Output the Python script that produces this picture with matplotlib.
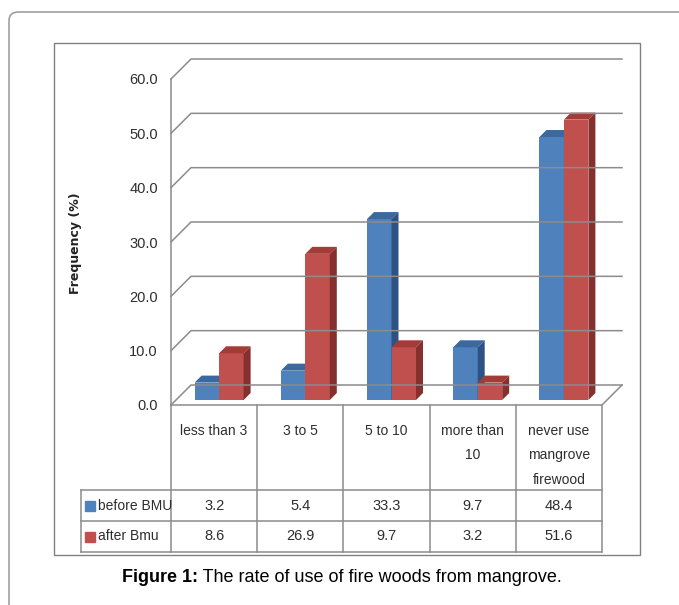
import numpy as np
import matplotlib
matplotlib.use("Agg")
import matplotlib.pyplot as plt
from matplotlib.patches import Polygon, Rectangle, FancyBboxPatch

# donnees
categories = ["less than 3", "3 to 5", "5 to 10", "more than\n10", "never use\nmangrove\nfirewood"]
before_bmu = [3.2, 5.4, 33.3, 9.7, 48.4]
after_bmu = [8.6, 26.9, 9.7, 3.2, 51.6]
series_names = ["before BMU", "after Bmu"]
y_ticks = [0, 10, 20, 30, 40, 50, 60]

W, H = 679, 605
plt.rcParams['font.family'] = ['Liberation Sans', 'DejaVu Sans']
FS = 10
TXT = '#2e2e2e'

fig = plt.figure(figsize=(W / 100, H / 100), dpi=100)

# cadre exterieur arrondi + cadre du graphique
fig.patches.append(FancyBboxPatch((9 / W, -0.1), 1.2, 1 - 12 / H + 0.1,
                                  boxstyle="round,pad=0,rounding_size=0.014",
                                  transform=fig.transFigure, fill=False, ec='#a0a0a0', lw=1.2))
fig.patches.append(Rectangle((54 / W, 1 - 555 / H), (640 - 54) / W, (555 - 43) / H,
                             transform=fig.transFigure, fill=False, ec='#808080', lw=1.0))

# axes du graphique (plan avant)
ax = fig.add_axes([171 / W, 1 - 405 / H, 431 / W, 326 / H])
ax.set_xlim(0, 5)
ax.set_ylim(0, 60)
ax.patch.set_visible(False)
for s in ax.spines.values():
    s.set_visible(False)
ax.set_xticks([])
ax.set_yticks(y_ticks)
ax.set_yticklabels([f"{v:.1f}" for v in y_ticks], fontsize=10.5, color=TXT)
ax.tick_params(axis='y', length=0, pad=9.5)

px = 5 / 431   # 1 pixel en unites x
py = 60 / 326  # 1 pixel en unites y
DEPTH = 20
gx, gy = DEPTH * px, DEPTH * py
grid_kw = dict(color='#8c8c8c', lw=1.1, clip_on=False)

for v in y_ticks:
    ax.plot([0, gx, 5 + gx], [v, v + gy, v + gy], **grid_kw)
ax.plot([0, 0], [0, 60], **grid_kw)
ax.plot([0, 5, 5 + gx], [0, 0, gy], **grid_kw)

# barres 3D
colors = {
    "blue": ('#4F81BD', '#3C68A0', '#2E5283'),
    "red": ('#C0504D', '#A33C39', '#86302D'),
}
n = len(categories)
x = np.arange(n) + 0.5
bw = 24.5 * px
d0x, d0y = 5 * px, 5 * py
bdx, bdy = 7 * px, 7 * py


def bar3d(x0, h, front, top, side):
    xl, xr = x0 + d0x, x0 + bw + d0x
    yb, yt = d0y, h + d0y
    ax.add_patch(Polygon([(xl, yb), (xr, yb), (xr, yt), (xl, yt)], closed=True,
                         fc=front, ec='none', clip_on=False))
    ax.add_patch(Polygon([(xl, yt), (xr, yt), (xr + bdx, yt + bdy), (xl + bdx, yt + bdy)],
                         closed=True, fc=top, ec='none', clip_on=False))
    ax.add_patch(Polygon([(xr, yb), (xr + bdx, yb + bdy), (xr + bdx, yt + bdy), (xr, yt)],
                         closed=True, fc=side, ec='none', clip_on=False))


for i in range(n):
    bar3d(x[i] - bw, before_bmu[i], *colors["blue"])
    bar3d(x[i], after_bmu[i], *colors["red"])

# tableau de donnees
tab = fig.add_axes([81 / W, 1 - 552 / H, (602 - 81) / W, (552 - 405) / H])
cat_px = 431 / 5
lab_w = (171 - 81) / cat_px
top_y = 147
row_h = 31
tab.set_xlim(-lab_w, 5)
tab.set_ylim(0, top_y)
tab.axis('off')
line_kw = dict(color='#8c8c8c', lw=1.1, clip_on=False)
for k in range(n + 1):
    tab.plot([k, k], [0, top_y], **line_kw)
tab.plot([-lab_w, -lab_w], [0, 2 * row_h], **line_kw)
for r in range(3):
    tab.plot([-lab_w, 5], [r * row_h, r * row_h], **line_kw)

for i, c in enumerate(categories):
    tab.text(i + 0.5, top_y - 19, c, ha='center', va='top', fontsize=FS,
             linespacing=1.95, color=TXT)

values = [before_bmu, after_bmu]
leg_cols = [colors["blue"][0], colors["red"][0]]
for r, (name, vals, col) in enumerate(zip(series_names, values, leg_cols)):
    yc = (2 - r - 0.5) * row_h
    tab.plot([-lab_w + 8.5 / cat_px], [yc], marker='s', ms=7, color=col, ls='none', clip_on=False)
    tab.text(-lab_w + 16.5 / cat_px, yc, name, ha='left', va='center', fontsize=FS, color=TXT)
    for i, v in enumerate(vals):
        tab.text(i + 0.5, yc, f"{v:.1f}", ha='center', va='center', fontsize=10.5, color=TXT)

# titre de l'axe y
fig.text(75 / W, 1 - 243 / H, "Frequency (%)", rotation=90, fontsize=9, fontweight='bold',
         family='DejaVu Sans', ha='center', va='center', color='#222222')

# legende de la figure, centree
cap_y = 1 - 577 / H
t1 = fig.text(0, cap_y, "Figure 1:", fontsize=13, fontweight='bold', va='center')
t2 = fig.text(0, cap_y, " The rate of use of fire woods from mangrove.", fontsize=13, va='center')
fig.canvas.draw()
w1 = t1.get_window_extent().width
w2 = t2.get_window_extent().width
x_start = 342 - (w1 + w2) / 2
t1.set_x(x_start / W)
t2.set_x((x_start + w1) / W)

fig.savefig("out.png", dpi=100)
